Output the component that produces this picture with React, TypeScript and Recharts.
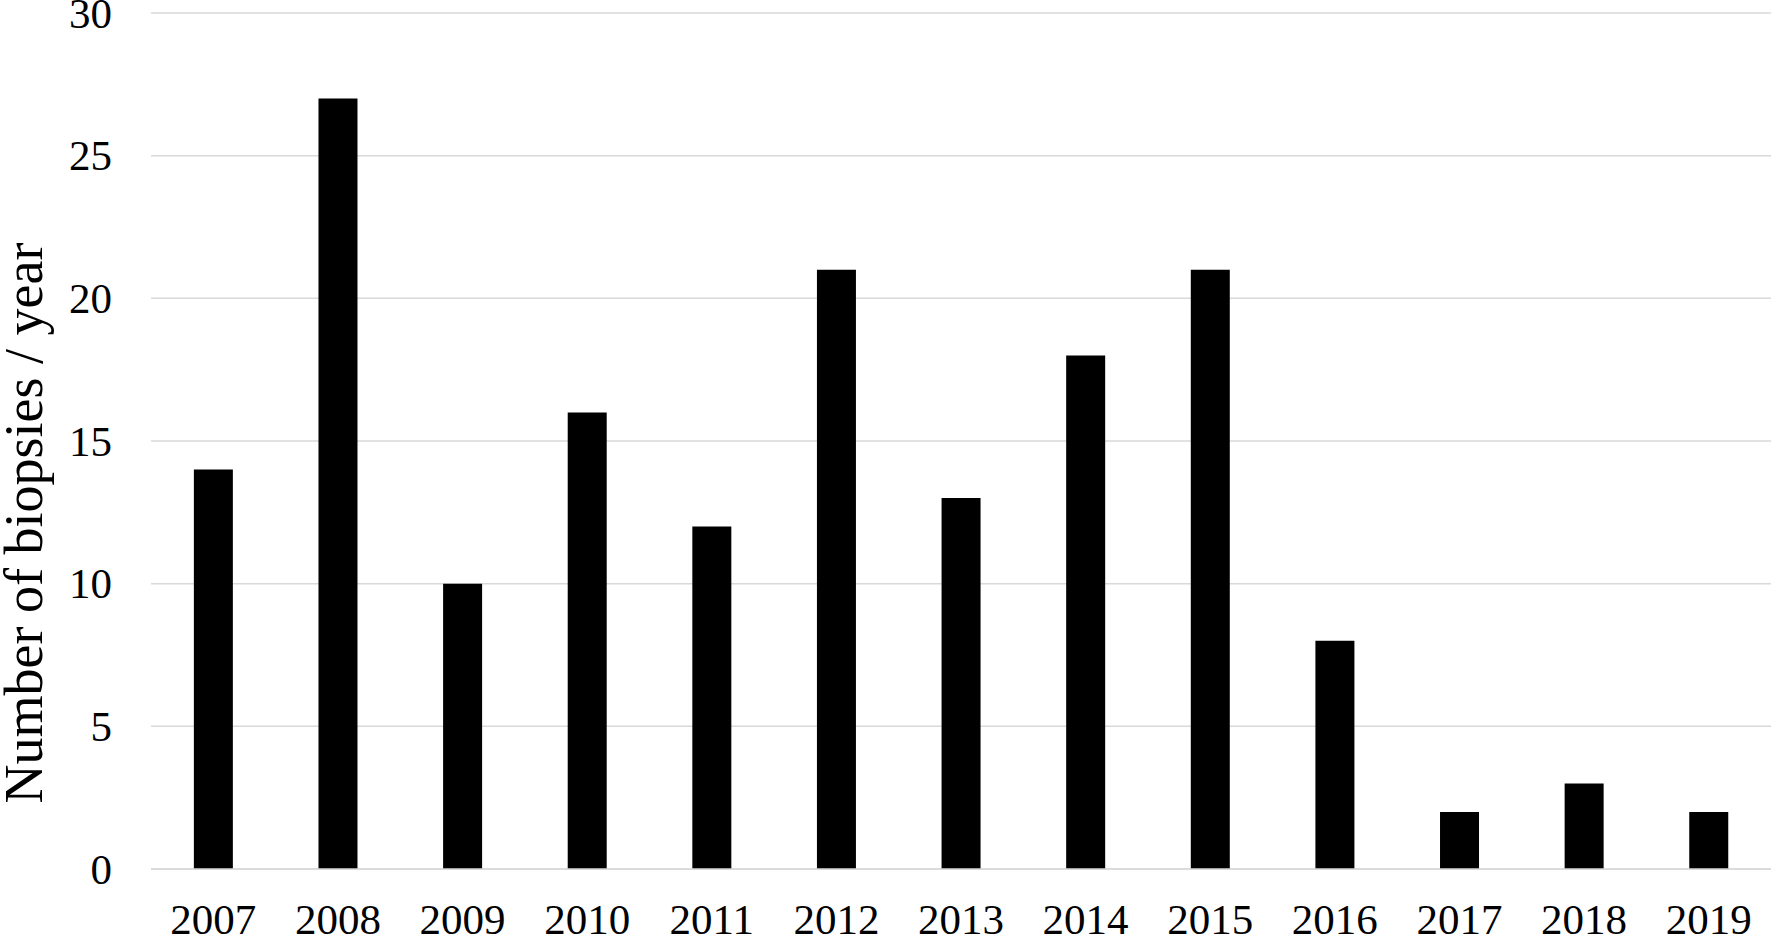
import { Bar, BarChart, CartesianGrid, XAxis, YAxis } from "recharts";

const years = ["2007", "2008", "2009", "2010", "2011", "2012", "2013", "2014", "2015", "2016", "2017", "2018", "2019"];
const biopsies = [14, 27, 10, 16, 12, 21, 13, 18, 21, 8, 2, 3, 2];
const yTicks = [0, 5, 10, 15, 20, 25, 30];

const data = years.map((year, i) => ({ year, count: biopsies[i] }));

const FONT = '"Liberation Serif", "Times New Roman", serif';

const YTick = (props: any) => {
  const { y, payload } = props;
  return (
    <text x={112} y={y + 14.5} textAnchor="end" fontFamily={FONT} fontSize={43} fill="#000">
      {payload.value}
    </text>
  );
};

const XTick = (props: any) => {
  const { x, payload } = props;
  return (
    <text x={x} y={934} textAnchor="middle" fontFamily={FONT} fontSize={43} fill="#000">
      {payload.value}
    </text>
  );
};

export default function App() {
  return (
    <div style={{ position: "absolute", left: 0, top: 0, background: "#fff" }}>
      <BarChart
        width={1771}
        height={934}
        data={data}
        margin={{ top: 13, right: 0, left: 0, bottom: 0 }}
        barCategoryGap="34.4%"
      >
        <CartesianGrid vertical={false} stroke="#d9d9d9" strokeWidth={1.5} />
        <XAxis
          dataKey="year"
          height={65}
          tickLine={false}
          axisLine={{ stroke: "#d9d9d9", strokeWidth: 1.5 }}
          tick={<XTick />}
          interval={0}
        />
        <YAxis
          width={151}
          domain={[0, 30]}
          ticks={yTicks}
          axisLine={false}
          tickLine={false}
          tick={<YTick />}
        />
        <Bar dataKey="count" fill="#000" isAnimationActive={false} />
        <text
          transform="translate(42, 523) rotate(-90)"
          textAnchor="middle"
          fontFamily={FONT}
          fontSize={54}
          fill="#000"
        >
          Number of biopsies / year
        </text>
      </BarChart>
    </div>
  );
}
